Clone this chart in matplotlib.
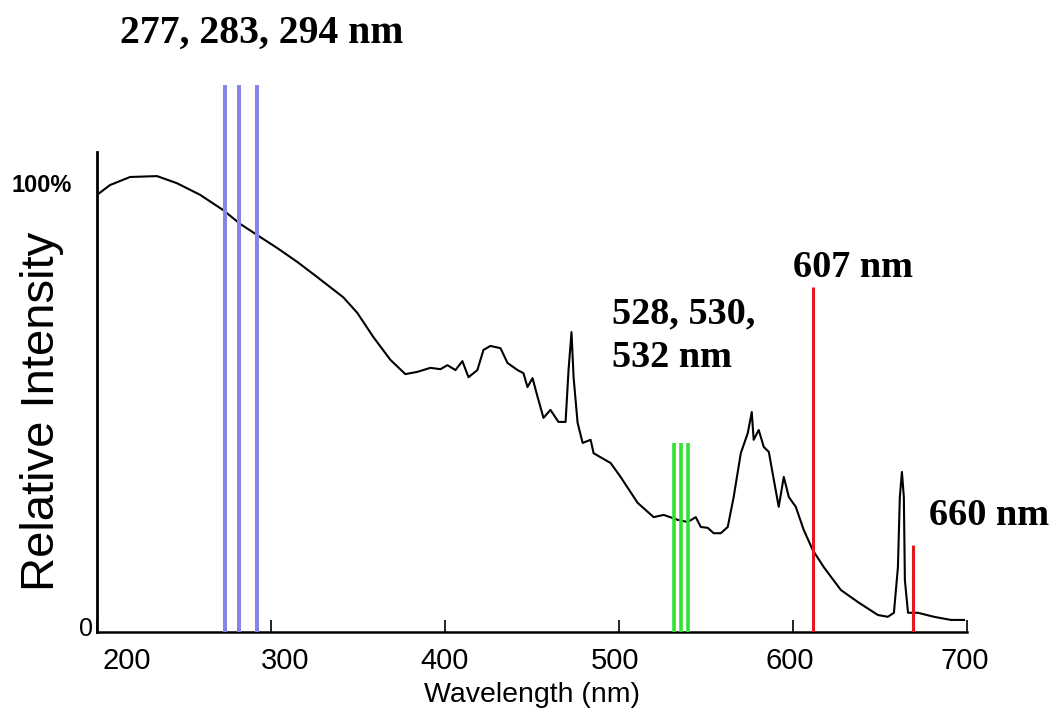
import matplotlib
matplotlib.use("Agg")
import matplotlib.pyplot as plt
from matplotlib.transforms import ScaledTranslation

# spectrum (nm, % of 100% mark)
wavelength = [200.0, 207.5, 219.0, 234.5, 246.0, 259.3, 272.5, 282.3, 292.1, 303.6,
              315.1, 326.6, 341.5, 349.6, 358.8, 368.6, 377.2, 384.1, 391.6, 397.4,
              401.4, 406.0, 410.0, 413.5, 418.6, 422.1, 426.1, 431.9, 435.9, 441.7,
              445.1, 447.4, 450.3, 453.2, 456.6, 460.6, 465.2, 469.3, 471.0, 472.7,
              473.9, 476.2, 479.1, 483.7, 485.4, 489.4, 495.2, 500.9, 510.7, 519.9,
              525.7, 533.7, 539.5, 544.1, 547.0, 551.0, 554.4, 558.5, 562.5, 565.9,
              570.0, 574.0, 576.3, 577.4, 580.3, 583.2, 586.1, 589.0, 591.8, 594.7,
              597.6, 601.6, 606.2, 611.4, 617.7, 627.5, 637.3, 648.8, 654.5, 658.0,
              660.3, 661.4, 662.6, 663.7, 664.3, 666.1, 671.8, 681.0, 690.8, 698.3]
intensity = [97.8, 100.0, 101.8, 102.0, 100.4, 97.8, 94.4, 91.3, 88.8, 85.9,
             82.8, 79.4, 74.9, 71.4, 66.0, 60.9, 57.7, 58.2, 59.1, 58.8,
             59.7, 58.6, 60.6, 57.0, 58.6, 63.1, 64.0, 63.5, 60.2, 58.6,
             57.9, 54.8, 56.8, 52.6, 47.9, 49.7, 47.0, 47.0, 58.6, 67.1,
             57.0, 46.8, 42.3, 43.0, 40.0, 39.1, 37.8, 34.7, 28.9, 25.7,
             26.2, 25.1, 24.6, 25.7, 23.5, 23.3, 22.1, 22.1, 23.5, 30.2,
             40.0, 44.5, 49.2, 43.0, 45.2, 41.4, 40.3, 34.0, 28.0, 34.7,
             30.2, 28.0, 22.8, 18.3, 14.5, 9.4, 6.7, 3.8, 3.4, 4.3,
             14.5, 30.2, 35.8, 30.2, 11.6, 4.3, 4.3, 3.4, 2.7, 2.7]

# marked lines as drawn on the figure
blue_lines = [273.6, 281.7, 292.1]
blue_top = 122.4
green_lines = [531.4, 535.4, 539.5]
green_top = 42.3
red_lines = [611.4, 668.9]
red_tops = [77.2, 19.5]

xticks = [200, 300, 400, 500, 600, 700]
xtick_labels = ["200", "300", "400", "500", "600", "700"]

W, H = 1052, 708
fig = plt.figure(figsize=(W / 100, H / 100), dpi=100)
ax = fig.add_axes([97 / W, 76 / H, 870 / W, 552 / H])
ax.set_xlim(200, 700)
ax.set_ylim(0, 123.5)

ax.plot(wavelength, intensity, color="black", linewidth=1.5, zorder=2)

ax.vlines(blue_lines, 0, blue_top, colors="#8585e8", linewidth=2.9, zorder=3, clip_on=False)
ax.vlines(green_lines, 0, green_top, colors="#35e035", linewidth=2.6, zorder=3)
ax.vlines(red_lines, 0, red_tops, colors="#e01a1e", linewidth=2.2, zorder=3)

for side in ["top", "right"]:
    ax.spines[side].set_visible(False)
ax.spines["left"].set_bounds(0, 107.4)
ax.spines["left"].set_linewidth(2.0)
ax.spines["bottom"].set_linewidth(1.8)

ax.set_xticks(xticks)
ax.set_xticklabels(xtick_labels, family="Liberation Sans", fontsize=21)
ax.tick_params(axis="x", direction="in", length=9, width=1.2, pad=11)
# labels in the scan sit a bit off their ticks
shifts = [30, 14, 0, -4, -3, -2]
for lbl, dx in zip(ax.get_xticklabels(), shifts):
    lbl.set_transform(lbl.get_transform() + ScaledTranslation(dx / 100, 0, fig.dpi_scale_trans))

ax.set_yticks([])
ax.annotate("0", xy=(0, 0), xycoords=("axes fraction", "data"), xytext=(-4, 3),
            textcoords="offset pixels", ha="right", va="center",
            family="Liberation Sans", fontsize=18)
ax.annotate("100%", xy=(0, 100), xycoords=("axes fraction", "data"), xytext=(-25, 0),
            textcoords="offset pixels", ha="right", va="center",
            family="Liberation Sans", fontsize=17, weight="bold")

fig.text(532 / W, 1 - 695 / H, "Wavelength (nm)", ha="center", va="center",
         family="Liberation Sans", fontsize=20.5)
fig.text(42 / W, 1 - 411 / H, "Relative Intensity", rotation=90, ha="center", va="center",
         family="Liberation Sans", fontsize=34)

serif = dict(family="Liberation Serif", weight="bold", fontsize=27.5, va="baseline")
fig.text(120 / W, 1 - 43 / H, "277, 283, 294 nm", fontsize=28.5,
         **{k: v for k, v in serif.items() if k != "fontsize"})
fig.text(793 / W, 1 - 277 / H, "607 nm", **serif)
fig.text(612 / W, 1 - 323 / H, "528, 530,", **serif)
fig.text(612 / W, 1 - 367 / H, "532 nm", **serif)
fig.text(929 / W, 1 - 525 / H, "660 nm", **serif)

fig.savefig("out.png", dpi=100)
